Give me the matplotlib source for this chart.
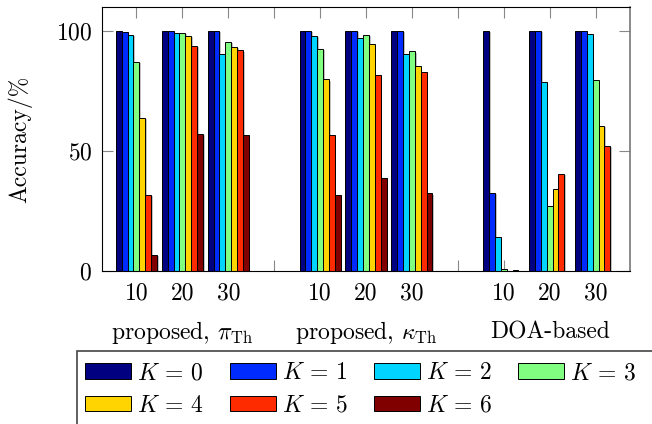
import numpy as np
import matplotlib
matplotlib.use('Agg')
import matplotlib.pyplot as plt
import matplotlib.patheffects as pe
from matplotlib.patches import Rectangle, Patch
from matplotlib.transforms import blended_transform_factory

plt.rcParams['font.family'] = ['cmr10', 'DejaVu Serif']
plt.rcParams['mathtext.fontset'] = 'cm'
plt.rcParams['axes.formatter.use_mathtext'] = True

FONT_SIZE = 17

# data
groups = [r'proposed, $\pi_{\mathrm{Th}}$', r'proposed, $\kappa_{\mathrm{Th}}$', 'DOA-based']
snr_labels = ['10', '20', '30']
k_labels = [r'$K\,=\,%d$' % k for k in range(7)]

# accuracy in %, one row per (group, snr), one column per K
acc_pi = [
    [100, 99.7, 98.3, 87.2, 63.6, 31.7, 6.8],
    [100, 100, 99.2, 99.2, 98.0, 93.9, 57.0],
    [100, 100, 90.5, 95.5, 93.5, 91.9, 56.5],
]
acc_kappa = [
    [100, 100, 98.0, 92.6, 79.8, 56.5, 31.6],
    [100, 100, 97.2, 98.3, 94.4, 81.6, 38.7],
    [100, 100, 90.3, 91.5, 85.3, 82.9, 32.3],
]
acc_doa = [
    [100, 32.7, 14.2, 1.0, 0.0, 0.3, 0.0],
    [100, 100, 78.9, 27.0, 34.1, 40.3, 0.0],
    [100, 100, 98.6, 79.4, 60.4, 52.0, 0.0],
]

# pgfplots-style jet, sampled at 7 points
bar_colors = [
    (0.0, 0.0, 0.5),
    (0.0, 0.167, 1.0),
    (0.0, 0.833, 1.0),
    (0.5, 1.0, 0.5),
    (1.0, 0.833, 0.0),
    (1.0, 0.167, 0.0),
    (0.5, 0.0, 0.0),
]


def main():
    all_acc = np.array(acc_pi + acc_kappa + acc_doa)
    centers = np.array([1, 2, 3, 5, 6, 7, 9, 10, 11])
    n_k = all_acc.shape[1]
    bar_w = 0.128

    fig = plt.figure(figsize=(6.52, 4.24), dpi=100)
    W, H = 652, 424
    ax = fig.add_axes([102 / W, 1 - 271 / H, (630 - 102) / W, (271 - 7) / H])

    shadow = [pe.SimplePatchShadow(offset=(1.2, -0.8), shadow_rgbFace='#999999', alpha=0.6), pe.Normal()]
    for k in range(n_k):
        offs = (k - (n_k - 1) / 2) * bar_w
        bars = ax.bar(centers + offs, all_acc[:, k], width=bar_w, color=bar_colors[k],
                      edgecolor='black', linewidth=0.7, label=k_labels[k], zorder=2)
        for b in bars:
            b.set_path_effects(shadow)

    ax.set_xlim(0.25, 11.75)
    ax.set_ylim(0, 110)
    ax.set_axisbelow(True)

    tick_pos = np.arange(1, 12)
    tick_lab = []
    for p in tick_pos:
        if p in centers:
            tick_lab.append(snr_labels[list(centers).index(p) % 3])
        else:
            tick_lab.append('')
    ax.set_xticks(tick_pos)
    ax.set_xticklabels(tick_lab)
    ax.set_yticks([0, 50, 100])
    ax.tick_params(axis='both', direction='in', length=8, width=0.8, color='#888888',
                   labelsize=FONT_SIZE, top=True, right=True)
    ax.tick_params(axis='x', pad=8)
    ax.tick_params(axis='y', pad=7)
    ax.spines['right'].set_color('#777777')
    ax.spines['right'].set_linewidth(1.2)

    ax.set_ylabel('Accuracy/%', fontsize=FONT_SIZE, va='center')
    ax.yaxis.set_label_coords((20 - 102) / 528, 0.5)

    trans = blended_transform_factory(ax.transData, fig.transFigure)
    for i, g in enumerate(groups):
        ax.text(centers[3 * i + 1], 1 - 332 / H, g, transform=trans, ha='center', va='center',
                fontsize=FONT_SIZE)

    # legend is filled column by column, so reorder to get rows K0..K3 / K4..K6
    order = [0, 4, 1, 5, 2, 6, 3]
    handles = [Patch(facecolor=bar_colors[k], edgecolor='black', linewidth=0.7) for k in order]
    labels = [k_labels[k] for k in order]
    fig.legend(handles, labels, ncol=4, loc='upper left',
               bbox_to_anchor=(85 / W, 1 - 362 / H), frameon=False, fontsize=FONT_SIZE,
               borderpad=0, borderaxespad=0, handlelength=1.95, handleheight=0.65,
               handletextpad=0.25, columnspacing=1.1, labelspacing=0.45)
    fig.add_artist(Rectangle((77 / W, -0.5), 1.0, 1 - 351 / H + 0.5, transform=fig.transFigure,
                             fill=False, edgecolor='#444444', linewidth=1.2))

    fig.savefig('out.png', dpi=100)


if __name__ == '__main__':
    main()
